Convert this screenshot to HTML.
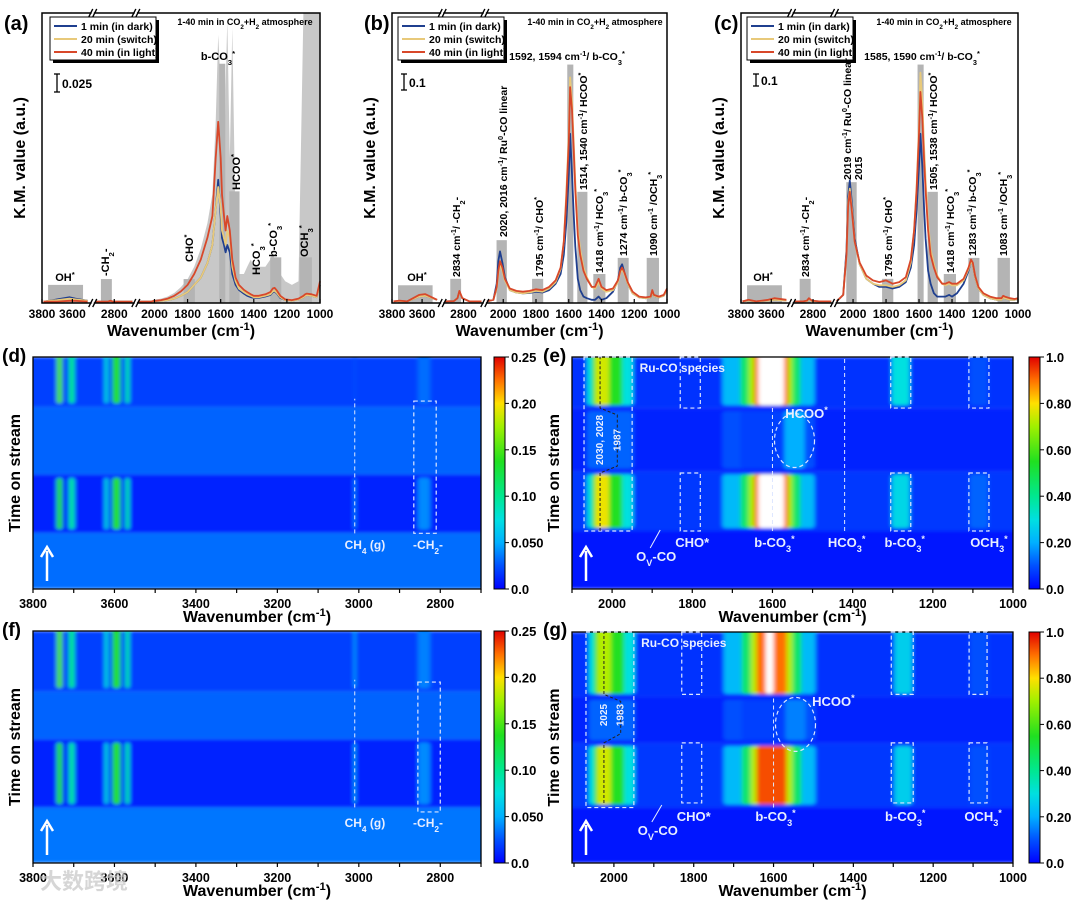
<!DOCTYPE html>
<html><head><meta charset="utf-8">
<style>
html,body{margin:0;padding:0;background:#fff;}
svg{display:block;font-family:"Liberation Sans","Noto Sans CJK SC",sans-serif;}
text{font-weight:bold;}
</style></head>
<body>
<svg id="fig" width="1080" height="901" viewBox="0 0 1080 901" xmlns="http://www.w3.org/2000/svg">
<defs>
<filter id="blurH" x="-20%" y="-20%" width="140%" height="140%"><feGaussianBlur stdDeviation="2 1.5"/></filter>
<linearGradient id="cbar" x1="0" y1="1" x2="0" y2="0">
<stop offset="0" stop-color="#0000ff"/><stop offset="0.1" stop-color="#0050ff"/><stop offset="0.2" stop-color="#00b0ff"/>
<stop offset="0.3" stop-color="#00e0e0"/><stop offset="0.4" stop-color="#00e890"/><stop offset="0.55" stop-color="#20e020"/>
<stop offset="0.7" stop-color="#a0f000"/><stop offset="0.8" stop-color="#ffe000"/><stop offset="0.9" stop-color="#ff7000"/><stop offset="1" stop-color="#e00000"/>
</linearGradient>
</defs>
</svg>
<script>
// ---------- spectra data (top row) ----------
const specWaves=[3790,3750,3700,3620,3580,3500,2950,2880,2850,2834,2810,2750,2650,2100,2060,2040,2030,2020,2005,1990,1960,1920,1880,1840,1800,1760,1720,1680,1650,1630,1615,1600,1592,1580,1570,1560,1545,1530,1510,1490,1460,1440,1418,1400,1370,1330,1300,1285,1274,1260,1240,1210,1170,1130,1100,1090,1080,1050,1020,1000];
const aRed=[0.002,0.002,0.002,0.003,0.003,0.002,0.002,0.002,0.002,0.003,0.002,0.002,0.002,0.002,0.002,0.002,0.002,0.002,0.003,0.003,0.004,0.006,0.01,0.016,0.025,0.04,0.06,0.09,0.12,0.2,0.25,0.2,0.15,0.12,0.1,0.12,0.1,0.06,0.035,0.025,0.018,0.015,0.012,0.01,0.01,0.012,0.015,0.02,0.021,0.017,0.01,0.005,0.004,0.006,0.01,0.012,0.013,0.012,0.01,0.03];
const aYellow=[0.002,0.003,0.004,0.006,0.005,0.003,0.002,0.002,0.002,0.003,0.002,0.002,0.002,0.002,0.002,0.002,0.002,0.002,0.002,0.003,0.003,0.004,0.006,0.01,0.015,0.025,0.035,0.055,0.08,0.13,0.16,0.13,0.1,0.09,0.08,0.1,0.09,0.05,0.03,0.02,0.015,0.012,0.01,0.008,0.008,0.01,0.012,0.016,0.017,0.014,0.008,0.004,0.003,0.005,0.008,0.01,0.011,0.01,0.008,0.025];
const aBlue=[0.002,0.003,0.005,0.008,0.006,0.003,0.002,0.002,0.002,0.003,0.002,0.002,0.002,0.002,0.002,0.002,0.002,0.002,0.002,0.003,0.003,0.004,0.006,0.01,0.015,0.025,0.035,0.055,0.08,0.13,0.17,0.12,0.09,0.08,0.07,0.08,0.07,0.04,0.025,0.018,0.013,0.01,0.008,0.007,0.007,0.009,0.011,0.015,0.016,0.013,0.007,0.004,0.003,0.005,0.008,0.01,0.011,0.01,0.008,0.025];
const aGray=[0.003,0.004,0.006,0.01,0.008,0.004,0.002,0.002,0.003,0.004,0.003,0.002,0.002,0.002,0.002,0.002,0.002,0.003,0.004,0.005,0.006,0.009,0.014,0.022,0.033,0.05,0.075,0.11,0.15,0.25,0.37,0.3,0.22,0.18,0.3,0.39,0.2,0.38,0.1,0.04,0.04,0.05,0.06,0.05,0.05,0.05,0.06,0.07,0.06,0.05,0.04,0.03,0.025,0.03,0.4,0.4,0.4,0.4,0.4,0.4];
const bRed=[0.01,0.015,0.01,0.05,0.055,0.02,0.01,0.012,0.03,0.075,0.03,0.01,0.01,0.01,0.02,0.1,0.2,0.26,0.22,0.15,0.09,0.075,0.07,0.075,0.085,0.08,0.1,0.14,0.22,0.38,0.65,1.0,1.34,1.2,0.95,0.7,0.42,0.3,0.2,0.15,0.1,0.1,0.15,0.1,0.08,0.09,0.14,0.2,0.22,0.19,0.13,0.07,0.04,0.035,0.04,0.08,0.05,0.04,0.05,0.09];
const bYellow=[0.01,0.012,0.01,0.04,0.045,0.02,0.01,0.012,0.03,0.07,0.03,0.01,0.01,0.01,0.02,0.09,0.18,0.24,0.2,0.14,0.08,0.065,0.06,0.065,0.075,0.07,0.09,0.13,0.21,0.38,0.68,1.05,1.4,1.25,1.0,0.75,0.46,0.33,0.22,0.16,0.1,0.09,0.13,0.09,0.07,0.08,0.13,0.19,0.21,0.18,0.12,0.06,0.035,0.03,0.035,0.07,0.045,0.035,0.045,0.08];
const bBlue=[0.01,0.012,0.01,0.04,0.045,0.02,0.01,0.012,0.03,0.07,0.03,0.01,0.01,0.01,0.02,0.12,0.26,0.32,0.25,0.16,0.08,0.065,0.06,0.062,0.07,0.065,0.08,0.12,0.18,0.3,0.5,0.8,1.05,0.8,0.55,0.35,0.15,0.08,0.04,0.03,0.02,0.02,0.04,0.02,0.03,0.07,0.14,0.22,0.24,0.19,0.12,0.06,0.035,0.03,0.035,0.07,0.045,0.035,0.045,0.08];
const cRed=[0.01,0.02,0.01,0.02,0.03,0.02,0.01,0.01,0.015,0.03,0.015,0.01,0.01,0.01,0.05,0.3,0.6,0.69,0.55,0.38,0.25,0.17,0.14,0.13,0.14,0.12,0.13,0.16,0.27,0.45,0.7,1.05,1.31,1.15,0.9,0.7,0.45,0.3,0.22,0.16,0.12,0.12,0.13,0.12,0.12,0.15,0.22,0.27,0.25,0.17,0.1,0.06,0.04,0.03,0.03,0.045,0.04,0.03,0.025,0.03];
const cYellow=[0.01,0.015,0.01,0.015,0.02,0.015,0.01,0.01,0.012,0.025,0.012,0.01,0.01,0.01,0.05,0.3,0.62,0.71,0.57,0.38,0.24,0.15,0.12,0.11,0.11,0.1,0.11,0.14,0.25,0.45,0.72,1.1,1.43,1.25,0.98,0.76,0.5,0.33,0.24,0.17,0.12,0.11,0.12,0.11,0.11,0.14,0.21,0.26,0.24,0.16,0.09,0.05,0.03,0.02,0.02,0.035,0.03,0.02,0.02,0.025];
const cBlue=[0.01,0.015,0.01,0.015,0.02,0.015,0.01,0.01,0.012,0.025,0.012,0.01,0.01,0.01,0.05,0.33,0.66,0.76,0.6,0.4,0.24,0.15,0.12,0.1,0.1,0.09,0.1,0.13,0.22,0.36,0.58,0.85,1.05,0.85,0.6,0.4,0.2,0.12,0.06,0.04,0.04,0.04,0.05,0.04,0.06,0.12,0.2,0.26,0.24,0.16,0.09,0.05,0.03,0.02,0.02,0.035,0.03,0.02,0.02,0.025];
// annotation bars (wavenumber ranges) and heights
const barW0=[3760,2910,2041,1824,1609,1548,1450,1301,1124];
const barW1=[3530,2820,1978,1756,1572,1486,1376,1234,1049];
const aBarTop=[0.025,0.033,0,0.033,0.33,0.154,0,0.063,0.063];
const bBarTop=[0.11,0.15,0.39,0.15,1.48,0.69,0.18,0.28,0.28];
const cBarTop=[0.11,0.15,0.75,0.15,1.48,0.69,0.18,0.28,0.28];
const specTicks=[3800,3600,2800,2000,1800,1600,1400,1200,1000];

// ---------- heatmap data ----------
const dBounds=[0,0.243,0.493,0.786,1];
const dBase=[0.13,0.04,0.12,0.08];
const dCenters=[3735,3705,3620,3595,3568,3010,2840];
const dWidths=[14,14,8,20,10,4,30];
const dVals=[[0,0.55,0,0.6],[0,0.38,0,0.4],[0,0.32,0,0.32],[0,0.55,0,0.55],[0,0.38,0,0.38],[0,0.18,0,0.1],[0,0.16,0,0.13]];
const fBounds=[0,0.24,0.533,0.74,1];
const fBase=[0.14,0.04,0.12,0.08];
const fCenters=[3735,3705,3620,3595,3568,3010,2840];
const fWidths=[14,14,8,20,10,4,30];
const fVals=[[0,0.55,0,0.6],[0,0.38,0,0.4],[0,0.32,0,0.32],[0,0.55,0,0.55],[0,0.38,0,0.38],[0,0.25,0,0.22],[0,0.16,0,0.15]];
const eBounds=[0,0.25,0.507,0.779,1];
const eBase=[0.03,0.07,0.04,0.06];
const eCenters=[2005,2012,2025,1610,1605,1605,1603,1603,1545,1280,1085];
const eWidths=[115,75,35,230,150,110,85,65,50,45,45];
const eVals=[[0,0.3,0.12,0.3],[0,0.55,0,0.55],[0,0.78,0,0.75],[0,0.22,0.1,0.22],[0,0.45,0.08,0.45],[0,0.7,0,0.7],[0,0.9,0,0.9],[0,1.2,0,1.2],[0,0,0.2,0],[0,0.28,0,0.3],[0,0.12,0,0.1]];
const gBounds=[0,0.24,0.519,0.719,1];
const gBase=[0.03,0.07,0.04,0.06];
const gCenters=[2005,2012,2025,1610,1605,1605,1605,1610,1545,1275,1085];
const gWidths=[115,75,35,230,150,105,75,20,50,45,45];
const gVals=[[0,0.3,0.12,0.3],[0,0.55,0,0.55],[0,0.75,0,0.72],[0,0.22,0.1,0.22],[0,0.45,0.08,0.45],[0,0.72,0,0.72],[0,0.93,0,0.9],[0,0,0,1.2],[0,0,0.15,0],[0,0.26,0,0.26],[0,0.1,0,0.1]];
const dTicks=[3800,3600,3400,3200,3000,2800];
const eTicks=[2000,1800,1600,1400,1200,1000];
const cbLabelsD=['0.0','0.050','0.10','0.15','0.20','0.25'];
const cbLabelsE=['0.0','0.20','0.40','0.60','0.80','1.0'];

const NS='http://www.w3.org/2000/svg';
const svg=document.getElementById('fig');
function mk(tag,attrs,parent){const e=document.createElementNS(NS,tag);for(const k in attrs)e.setAttribute(k,attrs[k]);(parent||svg).appendChild(e);return e;}
function txt(x,y,html,size,parent,anchor,rot,fill){const t=mk('text',{x:x,y:y,'font-size':size,'text-anchor':anchor||'middle',fill:fill||'#000'},parent);if(rot)t.setAttribute('transform','rotate(-90 '+x+' '+y+')');t.innerHTML=html;return t;}
const SUB=s=>'<tspan baseline-shift="sub" font-size="70%">'+s+'</tspan>';
const SUP=s=>'<tspan baseline-shift="super" font-size="70%">'+s+'</tspan>';

// ---------- spectra ----------
const segDef=[{w0:3800,w1:3480,f0:0,f1:0.175},{w0:2960,w1:2640,f0:0.19,f1:0.33},{w0:2100,w1:1000,f0:0.345,f1:1}];
function makeSpec(id,L,T,W,H,ymax,red,yellow,blue,barTop,gray){
  const g=mk('g',{});
  
  
  const segOf=w=>segDef.findIndex(s=>w<=s.w0&&w>=s.w1);
  const xm=w=>{const s=segDef[segOf(w)];return L+W*(s.f0+(s.w0-w)/(s.w0-s.w1)*(s.f1-s.f0));};
  const ym=v=>Math.max(T,T+H-v/ymax*H);
  if(gray){
    for(let si=0;si<3;si++){
      const idx=specWaves.map((w,i)=>i).filter(i=>segOf(specWaves[i])===si);
      if(!idx.length)continue;
      let d='M'+xm(specWaves[idx[0]])+','+(T+H);
      idx.forEach(i=>{d+=' L'+xm(specWaves[i]).toFixed(1)+','+ym(gray[i]).toFixed(1);});
      d+=' L'+xm(specWaves[idx[idx.length-1]])+','+(T+H)+'Z';
      const p=mk('path',{d:d,fill:'#c8c8c8'},g);
      
      
    }
  }
  barW0.forEach((w0,i)=>{
    if(!barTop[i])return;
    const x0=xm(w0),x1=xm(barW1[i]);
    const r=mk('rect',{x:x0,y:ym(barTop[i]),width:x1-x0,height:T+H-ym(barTop[i]),fill:'#b4b4b4'},g);
    
    
  });
  [[blue,'#1f3f8f','blue'],[yellow,'#e8c97a','yellow'],[red,'#d8482a','red']].forEach(([arr,col,nm])=>{
    for(let si=0;si<3;si++){
      const pts=specWaves.map((w,i)=>[w,arr[i]]).filter(p=>segOf(p[0])===si).map(p=>xm(p[0]).toFixed(1)+','+ym(p[1]).toFixed(1));
      const pl=mk('polyline',{points:pts.join(' '),fill:'none',stroke:col,'stroke-width':1.8,'stroke-linejoin':'round'},g);
      
      
    }
  });
  const fr=mk('rect',{x:L,y:T,width:W,height:H,fill:'none',stroke:'#000','stroke-width':1.5},g);
  
  
  [[segDef[0].f1,segDef[1].f0],[segDef[1].f1,segDef[2].f0]].forEach(([a,b])=>{
    const xa=L+W*a,xb=L+W*b;
    [T,T+H].forEach(yy=>{
      mk('rect',{x:xa+1,y:yy-3,width:xb-xa-2,height:6,fill:'#fff'},g);
      mk('line',{x1:xa-2,y1:yy+4,x2:xa+2,y2:yy-4,stroke:'#000','stroke-width':1.2},g);
      mk('line',{x1:xa+2,y1:yy+4,x2:xa+6,y2:yy-4,stroke:'#000','stroke-width':1.2},g);
      mk('line',{x1:xb-6,y1:yy+4,x2:xb-2,y2:yy-4,stroke:'#000','stroke-width':1.2},g);
      mk('line',{x1:xb-2,y1:yy+4,x2:xb+2,y2:yy-4,stroke:'#000','stroke-width':1.2},g);
    });
  });
  specTicks.forEach(w=>{
    const x=xm(w);
    mk('line',{x1:x,y1:T+H,x2:x,y2:T+H-4,stroke:'#000','stroke-width':1.2},g);
    const t=txt(x,T+H+15,String(w),12,g);
    
    
  });
  const xt=txt(L+W/2,T+H+33,'Wavenumber (cm'+SUP('-1')+')',16,g);
  
  
  const yt=txt(L-17,T+H/2,'K.M. value (a.u.)',16,g,'middle',true);
  
  
  return {xm,ym,g};
}
function legend(x,y,g){
  mk('rect',{x:x+3,y:y+3,width:106,height:43,fill:'#000'},g);
  const b=mk('rect',{x:x,y:y,width:106,height:43,fill:'#fff',stroke:'#000','stroke-width':1},g);
  
  
  [['#1f3f8f','1 min (in dark)'],['#e8c97a','20 min (switch)'],['#d8482a','40 min (in light)']].forEach(([c,l],i)=>{
    const yy=y+9+i*13;
    mk('line',{x1:x+4,y1:yy,x2:x+27,y2:yy,stroke:c,'stroke-width':2},g);
    const t=txt(x+31,yy+4,l,10.5,g,'start');
    
    
  });
}
function scaleBar(x,y1,y2,label,g){
  mk('line',{x1:x,y1:y1,x2:x,y2:y2,stroke:'#000','stroke-width':1.3},g);
  mk('line',{x1:x-3,y1:y1,x2:x+3,y2:y1,stroke:'#000','stroke-width':1.3},g);
  mk('line',{x1:x-3,y1:y2,x2:x+3,y2:y2,stroke:'#000','stroke-width':1.3},g);
  const t=txt(x+5,(y1+y2)/2+5,label,12,g,'start');
  
  
}
const A=makeSpec('a',42,13,278,290,0.4,aRed,aYellow,aBlue,aBarTop,aGray);
const B=makeSpec('b',392,13,275,290,1.8,bRed,bYellow,bBlue,bBarTop,null);
const C=makeSpec('c',741,13,277,290,1.8,cRed,cYellow,cBlue,cBarTop,null);
legend(50,17,A.g);legend(398,17,B.g);legend(747,17,C.g);
scaleBar(57,74,92,'0.025',A.g);scaleBar(404,74,90,'0.1',B.g);scaleBar(756,74,86,'0.1',C.g);
const atm='1-40 min in CO'+SUB('2')+'+H'+SUB('2')+' atmosphere';
txt(245,25,atm,9,A.g);txt(595,25,atm,9,B.g);txt(944,25,atm,9,C.g);
txt(65,281,'OH'+SUP('*'),11,A.g);
txt(109,276,'-CH'+SUB('2')+'-',11,A.g,'start',true);
txt(193,262,'CHO'+SUP('*'),11,A.g,'start',true);
txt(218,60,'b-CO'+SUB('3')+SUP('*'),11,A.g);
txt(240,190,'HCOO'+SUP('*'),11,A.g,'start',true);
txt(260,275,'HCO'+SUB('3')+SUP('*'),11,A.g,'start',true);
txt(277,257,'b-CO'+SUB('3')+SUP('*'),11,A.g,'start',true);
txt(308,257,'OCH'+SUB('3')+SUP('*'),11,A.g,'start',true);
txt(417,281,'OH'+SUP('*'),11,B.g);
txt(460,277,'2834 cm'+SUP('-1')+'/ -CH'+SUB('2')+'-',10.5,B.g,'start',true);
txt(507,237,'2020, 2016 cm'+SUP('-1')+'/ Ru'+SUP('0')+'-CO linear',10.5,B.g,'start',true);
txt(543,277,'1795 cm'+SUP('-1')+'/ CHO'+SUP('*'),10.5,B.g,'start',true);
txt(587,190,'1514, 1540 cm'+SUP('-1')+'/ HCOO'+SUP('*'),10.5,B.g,'start',true);
txt(603,273,'1418 cm'+SUP('-1')+'/ HCO'+SUB('3')+SUP('*'),10.5,B.g,'start',true);
txt(627,256,'1274 cm'+SUP('-1')+'/ b-CO'+SUB('3')+SUP('*'),10.5,B.g,'start',true);
txt(657,256,'1090 cm'+SUP('-1')+' /OCH'+SUB('3')+SUP('*'),10.5,B.g,'start',true);
txt(567,60,'1592, 1594 cm'+SUP('-1')+'/ b-CO'+SUB('3')+SUP('*'),10.5,B.g);
txt(763,281,'OH'+SUP('*'),11,C.g);
txt(809,277,'2834 cm'+SUP('-1')+'/ -CH'+SUB('2')+'-',10.5,C.g,'start',true);
txt(851,180,'2019 cm'+SUP('-1')+'/ Ru'+SUP('0')+'-CO linear',10.5,C.g,'start',true);
txt(862,180,'2015',10.5,C.g,'start',true);
txt(892,277,'1795 cm'+SUP('-1')+'/ CHO'+SUP('*'),10.5,C.g,'start',true);
txt(937,190,'1505, 1538 cm'+SUP('-1')+'/ HCOO'+SUP('*'),10.5,C.g,'start',true);
txt(954,273,'1418 cm'+SUP('-1')+'/ HCO'+SUB('3')+SUP('*'),10.5,C.g,'start',true);
txt(976,256,'1283 cm'+SUP('-1')+'/ b-CO'+SUB('3')+SUP('*'),10.5,C.g,'start',true);
txt(1007,256,'1083 cm'+SUP('-1')+' /OCH'+SUB('3')+SUP('*'),10.5,C.g,'start',true);
txt(922,60,'1585, 1590 cm'+SUP('-1')+'/ b-CO'+SUB('3')+SUP('*'),10.5,C.g);
txt(4,30,'(a)',20,svg,'start');txt(364,30,'(b)',20,svg,'start');txt(714,30,'(c)',20,svg,'start');

// ---------- heatmaps ----------
const cmStops=[[0,[0,0,255]],[0.1,[0,80,255]],[0.2,[0,176,255]],[0.3,[0,224,224]],[0.4,[0,232,144]],[0.55,[32,224,32]],[0.7,[160,240,0]],[0.8,[255,224,0]],[0.9,[255,112,0]],[1,[224,0,0]]];
function cmap(v){
  if(v>1.05)return '#ffffff';
  v=Math.max(0,Math.min(1,v));
  for(let i=1;i<cmStops.length;i++){
    if(v<=cmStops[i][0]){const [a,ca]=cmStops[i-1],[b,cb]=cmStops[i];const t=(v-a)/(b-a);
      return 'rgb('+ca.map((c,k)=>Math.round(c+(cb[k]-c)*t)).join(',')+')';}
  }
  return 'rgb(224,0,0)';
}
function makeHeat(id,L,T,W,H,w0,w1,bounds,base,centers,widths,vals,ticks,cbx,cbLabels){
  const g=mk('g',{});
  
  
  const xm=w=>L+(w0-w)/(w0-w1)*W;
  const tm=f=>T+H-f*H;
  const clip=mk('clipPath',{id:'clip'+id},g);
  mk('rect',{x:L,y:T,width:W,height:H},clip);
  const inner=mk('g',{'clip-path':'url(#clip'+id+')'},g);
  const fg=mk('g',{filter:'url(#blurH)'},inner);
  base.forEach((b,s)=>{
    const r=mk('rect',{x:L-20,y:tm(bounds[s+1]),width:W+40,height:tm(bounds[s])-tm(bounds[s+1]),fill:cmap(b)},fg);
    
    
  });
  centers.forEach((c,i)=>{
    vals[i].forEach((v,s)=>{
      if(!v)return;
      const x0=xm(c+widths[i]/2),x1=xm(c-widths[i]/2);
      const y0=tm(bounds[s+1])+(s===3?-10:3),y1=tm(bounds[s])-3;
      const r=mk('rect',{x:x0,y:y0,width:Math.max(1.5,x1-x0),height:y1-y0,rx:3,fill:cmap(v)},fg);
      
      
    });
  });
  const fr=mk('rect',{x:L,y:T,width:W,height:H,fill:'none',stroke:'#000','stroke-width':1.3},g);
  
  
  const step=(ticks[0]-ticks[1])/2;
  for(let w=ticks[0]+step;w>=Math.min(w0,w1)-1;w-=step){
    if(w>Math.max(w0,w1))continue;
    mk('line',{x1:xm(w),y1:T+H,x2:xm(w),y2:T+H+4,stroke:'#000','stroke-width':1.2},g);
  }
  ticks.forEach(w=>{
    const t=txt(xm(w),T+H+19,String(w),12.5,g);
    
    
  });
  const xt=txt(L+W/2,T+H+33,'Wavenumber (cm'+SUP('-1')+')',16,g);
  
  
  const yt=txt(L-13,T+H/2,'Time on stream',16,g,'middle',true);
  
  
  const ax=L+14;
  mk('line',{x1:ax,y1:T+H-8,x2:ax,y2:T+H-38,stroke:'#fff','stroke-width':2.5},g);
  const ar=mk('path',{d:'M'+(ax-6)+','+(T+H-32)+' L'+ax+','+(T+H-42)+' L'+(ax+6)+','+(T+H-32),fill:'none',stroke:'#fff','stroke-width':2.5},g);
  
  
  const cb=mk('rect',{x:cbx,y:T,width:11,height:H,fill:'url(#cbar)',stroke:'#000','stroke-width':1},g);
  
  
  cbLabels.forEach((l,i)=>{
    const yy=T+H-i*H/5;
    mk('line',{x1:cbx+11,y1:yy,x2:cbx+15,y2:yy,stroke:'#000','stroke-width':1},g);
    const t=txt(cbx+17,yy+5,l,13,g,'start');
    
    
  });
  return {xm,tm,g};
}
function dashRect(P,wA,wB,f0,f1){const x0=P.xm(wA),x1=P.xm(wB);const r=mk('rect',{x:x0,y:P.tm(f1),width:x1-x0,height:P.tm(f0)-P.tm(f1),fill:'none',stroke:'#dde6ff','stroke-width':1.2,'stroke-dasharray':'4 3'},P.g);}
function dashV(P,w,f0,f1){mk('line',{x1:P.xm(w),y1:P.tm(f0),x2:P.xm(w),y2:P.tm(f1),stroke:'#dde6ff','stroke-width':1,'stroke-dasharray':'4 3'},P.g);}
const WH='#e8eeff';

const D=makeHeat('d',33,357,448,232,3800,2700,dBounds,dBase,dCenters,dWidths,dVals,dTicks,494,cbLabelsD);
dashV(D,3010,0.24,0.82);dashRect(D,2865,2810,0.24,0.81);
txt(D.xm(2985),549,'CH'+SUB('4')+' (g)',12,D.g,'middle',false,WH);
txt(D.xm(2830),549,'-CH'+SUB('2')+'-',12,D.g,'middle',false,WH);
const F=makeHeat('f',33,631,448,232,3800,2700,fBounds,fBase,fCenters,fWidths,fVals,dTicks,494,cbLabelsD);
dashV(F,3010,0.24,0.79);dashRect(F,2855,2800,0.22,0.78);
txt(F.xm(2985),827,'CH'+SUB('4')+' (g)',12,F.g,'middle',false,WH);
txt(F.xm(2830),827,'-CH'+SUB('2')+'-',12,F.g,'middle',false,WH);

const E=makeHeat('e',572,357,441,232,2100,1000,eBounds,eBase,eCenters,eWidths,eVals,eTicks,1029,cbLabelsE);
dashRect(E,2070,1950,0.25,1);dashRect(E,1830,1780,0.78,1);dashRect(E,1830,1780,0.25,0.5);
dashRect(E,1305,1255,0.78,1);dashRect(E,1305,1255,0.25,0.5);dashRect(E,1110,1060,0.78,1);dashRect(E,1110,1060,0.25,0.5);
dashV(E,1420,0.25,1);dashV(E,1600,0.25,0.78);
mk('ellipse',{cx:E.xm(1545),cy:E.tm(0.64),rx:20,ry:27,fill:'none',stroke:'#dde6ff','stroke-width':1.2,'stroke-dasharray':'4 3'},E.g);
mk('polyline',{points:[[2030,0.25],[2030,0.5],[1987,0.53],[1987,0.75],[2030,0.78],[2030,1]].map(p=>E.xm(p[0])+','+E.tm(p[1])).join(' '),fill:'none',stroke:'#222','stroke-width':1,'stroke-dasharray':'3 2'},E.g);
txt(E.xm(1825),372,'Ru-CO species',12,E.g,'middle',false,WH);
txt(E.xm(1515),418,'HCOO'+SUP('*'),13,E.g,'middle',false,WH);
txt(E.xm(1800),547,'CHO*',13,E.g,'middle',false,WH);
txt(E.xm(1595),547,'b-CO'+SUB('3')+SUP('*'),13,E.g,'middle',false,WH);
txt(E.xm(1415),547,'HCO'+SUB('3')+SUP('*'),13,E.g,'middle',false,WH);
txt(E.xm(1270),547,'b-CO'+SUB('3')+SUP('*'),13,E.g,'middle',false,WH);
txt(E.xm(1060),547,'OCH'+SUB('3')+SUP('*'),13,E.g,'middle',false,WH);
txt(E.xm(1890),561,'O'+SUB('V')+'-CO',13,E.g,'middle',false,WH);
mk('line',{x1:E.xm(1905),y1:548,x2:E.xm(1880),y2:530,stroke:WH,'stroke-width':1},E.g);
txt(E.xm(2030)+3,440,'2030, 2028',10,E.g,'middle',true,WH);
txt(E.xm(1987)+3,440,'1987',10,E.g,'middle',true,WH);

const G=makeHeat('g',572,632,441,231,2105,1000,gBounds,gBase,gCenters,gWidths,gVals,eTicks,1029,cbLabelsE);
dashRect(G,2070,1950,0.24,1);dashRect(G,1830,1780,0.73,1);dashRect(G,1830,1780,0.26,0.52);
dashRect(G,1305,1250,0.73,1);dashRect(G,1305,1250,0.26,0.52);dashRect(G,1110,1065,0.73,1);dashRect(G,1110,1065,0.26,0.52);
dashV(G,1600,0.24,0.72);
mk('ellipse',{cx:G.xm(1545),cy:G.tm(0.6),rx:20,ry:27,fill:'none',stroke:'#dde6ff','stroke-width':1.2,'stroke-dasharray':'4 3'},G.g);
mk('polyline',{points:[[2025,0.26],[2025,0.52],[1983,0.56],[1983,0.7],[2025,0.73],[2025,1]].map(p=>G.xm(p[0])+','+G.tm(p[1])).join(' '),fill:'none',stroke:'#222','stroke-width':1,'stroke-dasharray':'3 2'},G.g);
txt(G.xm(1825),647,'Ru-CO species',12,G.g,'middle',false,WH);
txt(G.xm(1450),706,'HCOO'+SUP('*'),13,G.g,'middle',false,WH);
txt(G.xm(1800),821,'CHO*',13,G.g,'middle',false,WH);
txt(G.xm(1595),821,'b-CO'+SUB('3')+SUP('*'),13,G.g,'middle',false,WH);
txt(G.xm(1270),821,'b-CO'+SUB('3')+SUP('*'),13,G.g,'middle',false,WH);
txt(G.xm(1075),821,'OCH'+SUB('3')+SUP('*'),13,G.g,'middle',false,WH);
txt(G.xm(1890),835,'O'+SUB('V')+'-CO',13,G.g,'middle',false,WH);
mk('line',{x1:G.xm(1905),y1:822,x2:G.xm(1880),y2:805,stroke:WH,'stroke-width':1},G.g);
txt(G.xm(2025)+3,715,'2025',10,G.g,'middle',true,WH);
txt(G.xm(1983)+3,715,'1983',10,G.g,'middle',true,WH);

txt(2,362,'(d)',19,svg,'start');txt(543,362,'(e)',19,svg,'start');
txt(2,636,'(f)',19,svg,'start');txt(543,636,'(g)',19,svg,'start');
const wm=txt(40,889,'大数跨境',22,svg,'start',false,'rgba(200,200,200,0.75)');


</script>
</body></html>
